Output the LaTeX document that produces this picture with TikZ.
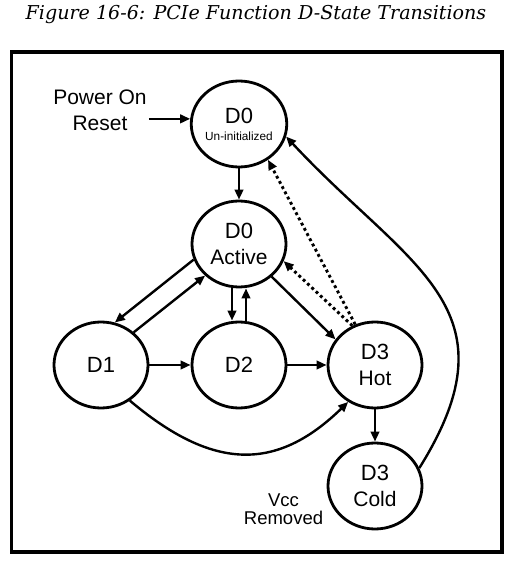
\documentclass[tikz,border=0pt]{standalone}
\usepackage{fontspec}
\newfontfamily\diagfont{Liberation Sans}
\newfontfamily\captionfont{DejaVu Serif}
\usetikzlibrary{arrows.meta, shapes.geometric}

\newcommand{\sublabel}[1]{{\fontsize{21}{26}\selectfont #1}}

\begin{document}
\begin{tikzpicture}[x=1pt, y=1pt, >={Triangle[length=10pt,width=8.5pt]},
  dstate/.style={ellipse, draw, line width=2.8pt, minimum width=94pt,
    minimum height=86pt, inner sep=0pt, align=center,
    font=\diagfont\fontsize{22}{26}\selectfont},
  trans/.style={->, line width=2.4pt},
  wake/.style={->, line width=2.9pt, dash pattern=on 2.9pt off 3pt},
  note/.style={align=center, inner sep=2pt,
    font=\diagfont\fontsize{21}{26}\selectfont}]
  \useasboundingbox (0,0) rectangle (517,563);
  % Caption and frame
  \node[anchor=base, font=\captionfont\itshape\fontsize{19.1}{24}\selectfont] (title)
    at (256,543) {Figure 16-6: PCIe Function D-State Transitions};
  \draw[line width=3.2pt] (11.5,11) rectangle (502,511);
  % States
  \node[dstate, font=\diagfont\fontsize{22}{17}\selectfont] (d0u) at (239,439)
    {D0\\{\fontsize{11.8}{17}\selectfont Un-initialized}};
  \node[dstate] (d0a) at (239,319) {D0\\\sublabel{Active}};
  \node[dstate] (d1) at (101,198) {D1};
  \node[dstate] (d2) at (239,198) {D2};
  \node[dstate] (d3h) at (375,198) {D3\\\sublabel{Hot}};
  \node[dstate] (d3c) at (375,77) {D3\\\sublabel{Cold}};
  % Side notes
  \node[note] (por) at (100,452.5) {Power On\\Reset};
  \node[note, font=\diagfont\fontsize{18.5}{18}\selectfont] (vcc)
    at (283.5,54) {Vcc\\Removed};
  % Transitions
  \draw[trans] (por.east |- d0u.174) -- (d0u.174);
  \draw[trans] (d0u.south) -- (d0a.north);
  \draw[trans] (d0a.199) -- (d1.72);
  \draw[trans] (d1.45) -- (d0a.223);
  \draw[trans] ([xshift=-7pt]d0a.south) -- ([xshift=-7pt]d2.north);
  \draw[trans] ([xshift=7pt]d2.north) -- ([xshift=7pt]d0a.south);
  \draw[trans] (d0a.-45) -- (d3h.147);
  \draw[trans] (d1.east) -- (d2.west);
  \draw[trans] (d2.east) -- (d3h.west);
  \draw[trans] (d1.-51) .. controls +(83,-70) and +(-72,-70) .. (d3h.234);
  \draw[trans] (d3h.south) -- (d3c.north);
  \draw[trans] (d3c.22) .. controls +(100.7,161.1) and +(122.4,-131.4) .. (d0u.-15);
  % Wake-up paths from D3hot
  \draw[wake] (d3h.120) -- (d0a.339);
  \draw[wake] (d3h.116) -- (d0u.309);
\end{tikzpicture}
\end{document}
